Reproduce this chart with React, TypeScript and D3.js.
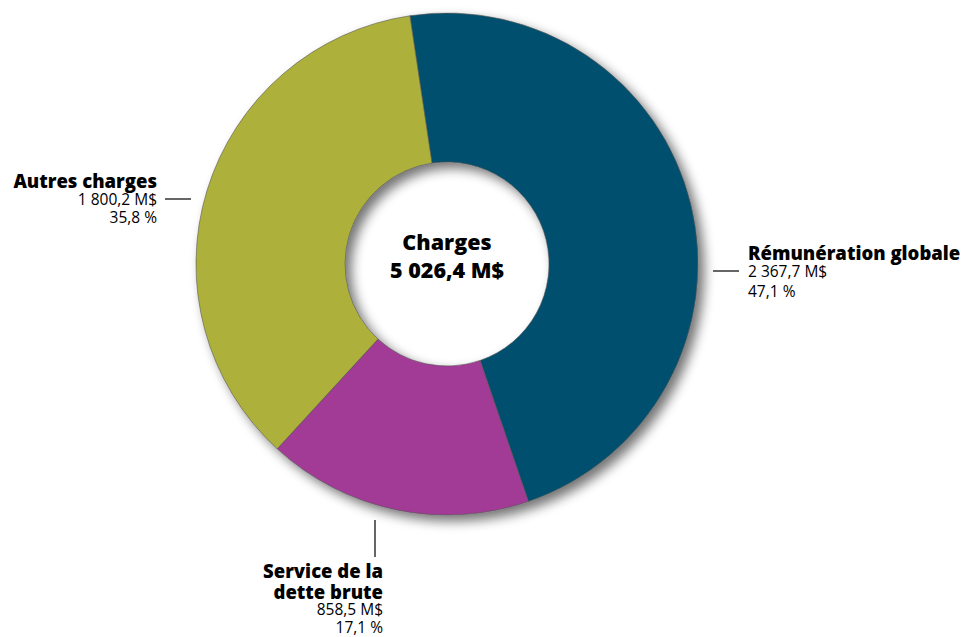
import React from "react";
import * as d3 from "d3";

const categories = ["Rémunération globale", "Service de la dette brute", "Autres charges"];
const amounts = [2367.7, 858.5, 1800.2];
const amountLabels = ["2 367,7 M$", "858,5 M$", "1 800,2 M$"];
const percentLabels = ["47,1 %", "17,1 %", "35,8 %"];
const colors = ["#02506E", "#A23A96", "#ADB13A"];
const centerTitle = "Charges";
const centerTotal = "5 026,4 M$";

const W = 972;
const H = 637;
const cx = 447;
const cy = 264;
const outerR = 251;
const innerR = 102;
const startDeg = -8.5;

export default function App() {
  const pie = d3
    .pie<number>()
    .sort(null)
    .value((d) => d)
    .startAngle((startDeg * Math.PI) / 180)
    .endAngle(((startDeg + 360) * Math.PI) / 180);
  const arcs = pie(amounts);
  const arcGen = d3.arc<d3.PieArcDatum<number>>().innerRadius(innerR).outerRadius(outerR);
  const font = "'Open Sans', 'Noto Sans', sans-serif";
  const bw = 800;
  const bs = 18.5;
  const ns = 15.5;

  return (
    <svg
      width={W}
      height={H}
      style={{ position: "absolute", left: 0, top: 0, background: "#fff" }}
      fontFamily={font}
    >
      <defs>
        <filter id="shadow" x="-20%" y="-20%" width="140%" height="140%">
          <feGaussianBlur in="SourceAlpha" stdDeviation="6" />
          <feOffset dx="6" dy="6" result="blur" />
          <feComponentTransfer>
            <feFuncA type="linear" slope="0.55" />
          </feComponentTransfer>
          <feMerge>
            <feMergeNode />
            <feMergeNode in="SourceGraphic" />
          </feMerge>
        </filter>
      </defs>
      <g transform={`translate(${cx},${cy})`} filter="url(#shadow)">
        {arcs.map((a, i) => (
          <path key={categories[i]} d={arcGen(a) || ""} fill={colors[i]} stroke="#555" strokeWidth={0.6} />
        ))}
      </g>

      {/* center */}
      <text x={cx} y={250} textAnchor="middle" fontWeight={bw} fontSize={21.5} fill="#000">
        {centerTitle}
      </text>
      <text x={cx} y={278} textAnchor="middle" fontWeight={bw} fontSize={21.5} fill="#000">
        {centerTotal}
      </text>

      {/* Autres charges */}
      <text x={157} y={188} textAnchor="end" fontWeight={bw} fontSize={bs} fill="#000">
        {categories[2]}
      </text>
      <text x={157} y={205} textAnchor="end" fontSize={ns} fill="#000">
        {amountLabels[2]}
      </text>
      <text x={157} y={223} textAnchor="end" fontSize={ns} fill="#000">
        {percentLabels[2]}
      </text>
      <line x1={165} x2={191} y1={199} y2={199} stroke="#000" strokeWidth={1.2} />

      {/* Rémunération globale */}
      <text x={748} y={260} fontWeight={bw} fontSize={bs} fill="#000">
        {categories[0]}
      </text>
      <text x={748} y={277} fontSize={ns} fill="#000">
        {amountLabels[0]}
      </text>
      <text x={748} y={297} fontSize={ns} fill="#000">
        {percentLabels[0]}
      </text>
      <line x1={713} x2={739} y1={271} y2={271} stroke="#000" strokeWidth={1.2} />

      {/* Service de la dette brute */}
      <line x1={375} x2={375} y1={520} y2={557} stroke="#000" strokeWidth={1.2} />
      <text x={383} y={578} textAnchor="end" fontWeight={bw} fontSize={bs} fill="#000">
        Service de la
      </text>
      <text x={383} y={599} textAnchor="end" fontWeight={bw} fontSize={bs} fill="#000">
        dette brute
      </text>
      <text x={383} y={615} textAnchor="end" fontSize={ns} fill="#000">
        {amountLabels[1]}
      </text>
      <text x={383} y={633} textAnchor="end" fontSize={ns} fill="#000">
        {percentLabels[1]}
      </text>
    </svg>
  );
}
